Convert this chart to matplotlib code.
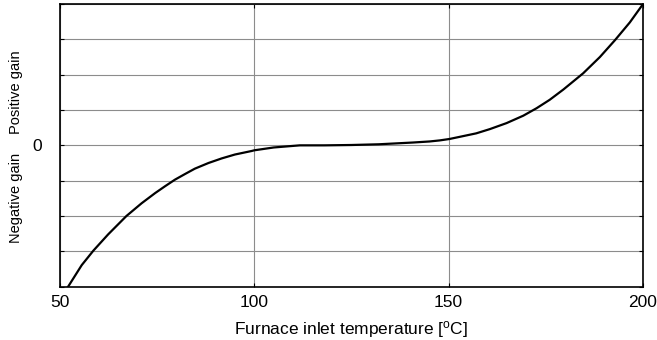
import matplotlib
matplotlib.use("Agg")
import matplotlib.pyplot as plt

plt.rcParams['font.family'] = ['Liberation Sans', 'DejaVu Sans']

# gain curve vs furnace inlet temperature (relative gain units, 0 = no gain)
temperatura = [52.1, 55.6, 58.6, 62.4, 67.1, 71.0, 74.5, 77.0, 79.6, 82.2, 84.7,
               88.2, 91.6, 95.0, 99.3, 100.0, 105.0, 111.7, 118.0, 125.0, 132.0,
               140.8, 145.1, 147.7, 150.2, 152.8, 157.1, 160.6, 164.9, 169.2,
               172.6, 176.0, 179.5, 184.6, 188.9, 192.8, 196.6, 200.0]
ganho = [-4.0, -3.39, -2.98, -2.52, -2.0, -1.64, -1.35, -1.16, -0.97, -0.81, -0.66,
         -0.50, -0.37, -0.26, -0.16, -0.14, -0.06, 0.0, 0.0, 0.01, 0.03,
         0.08, 0.11, 0.14, 0.18, 0.24, 0.34, 0.46, 0.63, 0.84,
         1.05, 1.29, 1.58, 2.04, 2.50, 2.98, 3.48, 4.0]

xticks = [50, 100, 150, 200]
yticks = [-4, -3, -2, -1, 0, 1, 2, 3, 4]
ytick_labels = ['', '', '', '', '0', '', '', '', '']

fig = plt.figure(figsize=(6.57, 3.4), dpi=100)
ax = fig.add_axes([0.0913, 0.157, 0.8874, 0.831])

ax.plot(temperatura, ganho, color='black', linewidth=1.6,
        solid_joinstyle='round')

ax.set_xlim(50, 200)
ax.set_ylim(-4, 4)
ax.set_xticks(xticks)
ax.set_yticks(yticks)
ax.set_yticklabels(ytick_labels)

ax.grid(True, color='#8c8c8c', linewidth=0.8)
ax.tick_params(direction='in', length=3, width=0.8, top=True, right=True,
               labelsize=12.5)
ax.tick_params(axis='x', pad=6)
ax.tick_params(axis='y', pad=13)
for s in ax.spines.values():
    s.set_linewidth(1.2)

fig.text(351.5 / 657, 1 - 334 / 340, 'Furnace inlet temperature [$\\mathregular{^{o}}$C]',
         ha='center', va='baseline', fontsize=12.5)

fig.text(0.025, 0.729, 'Positive gain', rotation=90, ha='center', va='center',
         fontsize=10.5)
fig.text(0.025, 0.418, 'Negative gain', rotation=90, ha='center', va='center',
         fontsize=10.5)

fig.savefig('out.png', dpi=100)
